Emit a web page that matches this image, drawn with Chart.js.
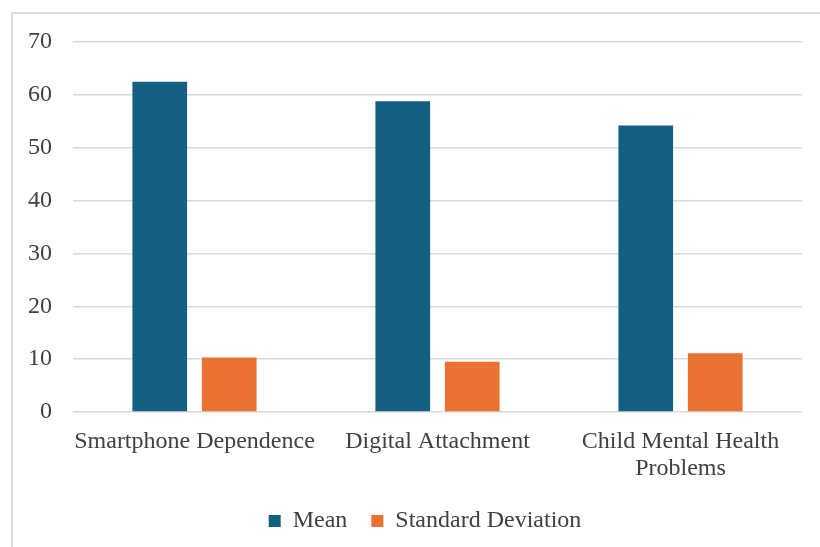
<!DOCTYPE html>
<html>
<head>
<meta charset="utf-8">
<script src="https://cdn.jsdelivr.net/npm/chart.js@4.4.1/dist/chart.umd.min.js"></script>
<style>
    html, body { margin: 0; padding: 0; background: #ffffff; overflow: hidden; }
    #frame {
        position: absolute; left: 11px; top: 12px; width: 830px; height: 560px;
        border-left: 2px solid #dedede; border-top: 2px solid #dedede;
        pointer-events: none;
    }
    #wrap { position: absolute; left: 0; top: 0; width: 820px; height: 547px; }
</style>
</head>
<body>
<div id="wrap"><canvas id="chart"></canvas></div>
<div id="frame"></div>
<script>
// Datos
const categories = ['Smartphone Dependence', 'Digital Attachment', ['Child Mental Health', 'Problems']];
const meanValues = [62.5, 58.8, 54.2];
const stdDevValues = [10.3, 9.5, 11.1];
const seriesNames = ['Mean', 'Standard Deviation'];
const yTicks = [0, 10, 20, 30, 40, 50, 60, 70];

const COLORS = {
    MEAN: '#156082',
    STD: '#e97132',
    GRID: '#d9d9d9',
    TEXT: '#404040'
};

const FONT = { family: '"Liberation Serif", "Times New Roman", serif', size: 24, lineHeight: 1.125 };

// Desplaza la leyenda hacia la derecha (centrada como en Excel)
const legendShift = {
    id: 'legendShift',
    afterLayout: (chart) => {
        if (chart.legend) {
            chart.legend.left += 20;
        }
    }
};

const config = {
    type: 'bar',
    data: {
        labels: categories,
        datasets: [{
            label: seriesNames[0],
            data: meanValues,
            backgroundColor: COLORS.MEAN,
            borderWidth: 0,
        }, {
            label: seriesNames[1],
            data: stdDevValues,
            backgroundColor: COLORS.STD,
            borderWidth: 0,
        }]
    },
    options: {
        responsive: true,
        maintainAspectRatio: false,
        animation: false,
        datasets: {
            bar: { categoryPercentage: 0.572, barPercentage: 0.787 }
        },
        layout: {
            padding: { left: 28, right: 18, top: 42, bottom: 4 }
        },
        scales: {
            x: {
                grid: { display: false, drawTicks: false },
                border: { display: false },
                // Evita que las etiquetas largas empujen el área del gráfico
                afterFit: (scale) => {
                    scale.paddingLeft = 0;
                    scale.paddingRight = 0;
                    scale.height -= 13;
                },
                ticks: {
                    color: COLORS.TEXT,
                    font: FONT,
                    padding: 16,
                    maxRotation: 0,
                    autoSkip: false
                }
            },
            y: {
                min: 0,
                max: 70,
                afterBuildTicks: (scale) => {
                    scale.ticks = yTicks.map(v => ({ value: v }));
                },
                afterFit: (scale) => {
                    scale.width = 45;
                },
                grid: { color: COLORS.GRID, lineWidth: 1.5, drawTicks: false },
                border: { display: false },
                ticks: {
                    color: COLORS.TEXT,
                    font: FONT,
                    padding: 21
                }
            }
        },
        plugins: {
            legend: {
                position: 'bottom',
                labels: {
                    color: COLORS.TEXT,
                    font: FONT,
                    boxWidth: 12,
                    boxHeight: 12,
                    padding: 24
                }
            },
            tooltip: { enabled: false }
        }
    },
    plugins: [legendShift]
};

new Chart(document.getElementById('chart'), config);
</script>
</body>
</html>
